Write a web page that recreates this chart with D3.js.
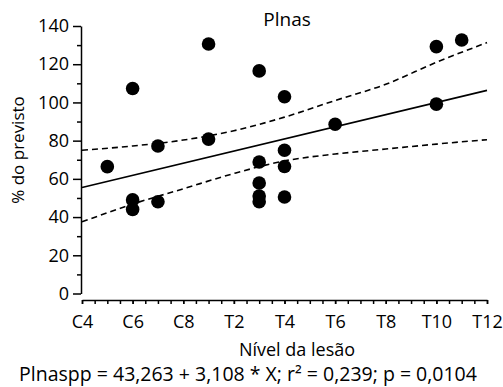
<!DOCTYPE html>
<html>
<head>
<meta charset="utf-8">
<script src="https://cdn.jsdelivr.net/npm/d3@7"></script>
<style>
  body { margin: 0; background: #fff; }
  text { font-family: "Open Sans", sans-serif; fill: #000; }
</style>
</head>
<body>
<div class="chart-area"></div>
<script>
// spinal level: C4=4 ... C8=8, T1=9 ... T12=20
const tickLevels = [4, 6, 8, 10, 12, 14, 16, 18, 20];
const tickLabels = ["C4", "C6", "C8", "T2", "T4", "T6", "T8", "T10", "T12"];
const yTicks = [0, 20, 40, 60, 80, 100, 120, 140];

// points
const pointLevel = [5, 6, 6, 6, 7, 7, 9, 9, 11, 11, 11, 11, 11, 12, 12, 12, 12, 14, 18, 18, 19];
const pointValue = [66.4, 107.3, 49, 44, 77.2, 48, 130.6, 80.8, 116.5, 68.8, 57.8, 51, 48, 103, 75, 66.5, 50.5, 88.6, 129.2, 99.1, 132.7];

// fit line and 95% band
const fitLevel = [4, 20];
const fitValue = [55.5, 106.3];
const bandLevel = [4, 6, 8, 10, 12, 14, 16, 18, 20];
const bandUpper = [75, 77.2, 80.3, 85.2, 92.3, 101, 109.5, 121, 131.3];
const bandLower = [37.5, 46.8, 54.8, 62.8, 69.4, 73, 75.6, 78.2, 80.5];

const title = "Plnas";
const xTitle = "Nível da lesão";
const yTitle = "% do previsto";
const caption = "Plnaspp = 43,263 + 3,108 * X; r\u00B2 = 0,239; p = 0,0104";

let width = 503;
let height = 387;

const svg = d3.select(".chart-area").append("svg")
  .attr("width", width)
  .attr("height", height);

const x = d3.scaleLinear().domain([4, 20]).range([82, 487]);
const y = d3.scaleLinear().domain([0, 140]).range([293.5, 26]);

// y axis: minor then major
svg.append("g")
  .attr("transform", "translate(81,0)")
  .call(d3.axisLeft(y).tickValues(d3.range(10, 140, 20)).tickSize(4).tickFormat(""))
  .call(g => g.select(".domain").remove());
const yAxis = svg.append("g")
  .attr("transform", "translate(81,0)")
  .call(d3.axisLeft(y).tickValues(yTicks).tickSize(8).tickSizeOuter(0).tickPadding(4));
yAxis.selectAll("text").style("font-size", "18px");

// x axis, offset below the zero
svg.append("g")
  .attr("transform", "translate(0,300)")
  .call(d3.axisBottom(x).tickValues(d3.range(4, 20.01, 0.5)).tickSize(4).tickSizeOuter(0).tickFormat(""));
const xAxis = svg.append("g")
  .attr("transform", "translate(0,300)")
  .call(d3.axisBottom(x).tickValues(tickLevels).tickSize(4).tickFormat((d, i) => tickLabels[i]).tickPadding(11));
xAxis.select(".domain").remove();
xAxis.selectAll("text").style("font-size", "18px");

svg.selectAll(".domain, .tick line").attr("stroke", "#000").attr("stroke-width", 1.5);

// band
const line = d3.line().x(d => x(d[0])).y(d => y(d[1])).curve(d3.curveMonotoneX);
[bandUpper, bandLower].forEach(arr => {
  svg.append("path")
    .datum(bandLevel.map((l, i) => [l, arr[i]]))
    .attr("d", line)
    .attr("fill", "none")
    .attr("stroke", "#000")
    .attr("stroke-width", 1.6)
    .attr("stroke-dasharray", "6,4");
});

// fit
svg.append("path")
  .datum(fitLevel.map((l, i) => [l, fitValue[i]]))
  .attr("d", d3.line().x(d => x(d[0])).y(d => y(d[1])))
  .attr("fill", "none")
  .attr("stroke", "#000")
  .attr("stroke-width", 1.6);

// points
svg.selectAll(".pt")
  .data(pointLevel.map((l, i) => [l, pointValue[i]]))
  .join("circle")
  .attr("class", "pt")
  .attr("cx", d => x(d[0]))
  .attr("cy", d => y(d[1]))
  .attr("r", 6.8)
  .attr("fill", "#000");

// texts
svg.append("text")
  .attr("x", 287).attr("y", 26)
  .attr("text-anchor", "middle")
  .style("font-size", "19px")
  .text(title);

svg.append("text")
  .attr("x", 297).attr("y", 356)
  .attr("text-anchor", "middle")
  .style("font-size", "18px")
  .text(xTitle);

svg.append("text")
  .attr("transform", "translate(24,150) rotate(-90)")
  .attr("text-anchor", "middle")
  .style("font-size", "17px")
  .text(yTitle);

svg.append("text")
  .attr("x", 248).attr("y", 381)
  .attr("text-anchor", "middle")
  .style("font-size", "19.5px")
  .text(caption);
</script>
</body>
</html>
